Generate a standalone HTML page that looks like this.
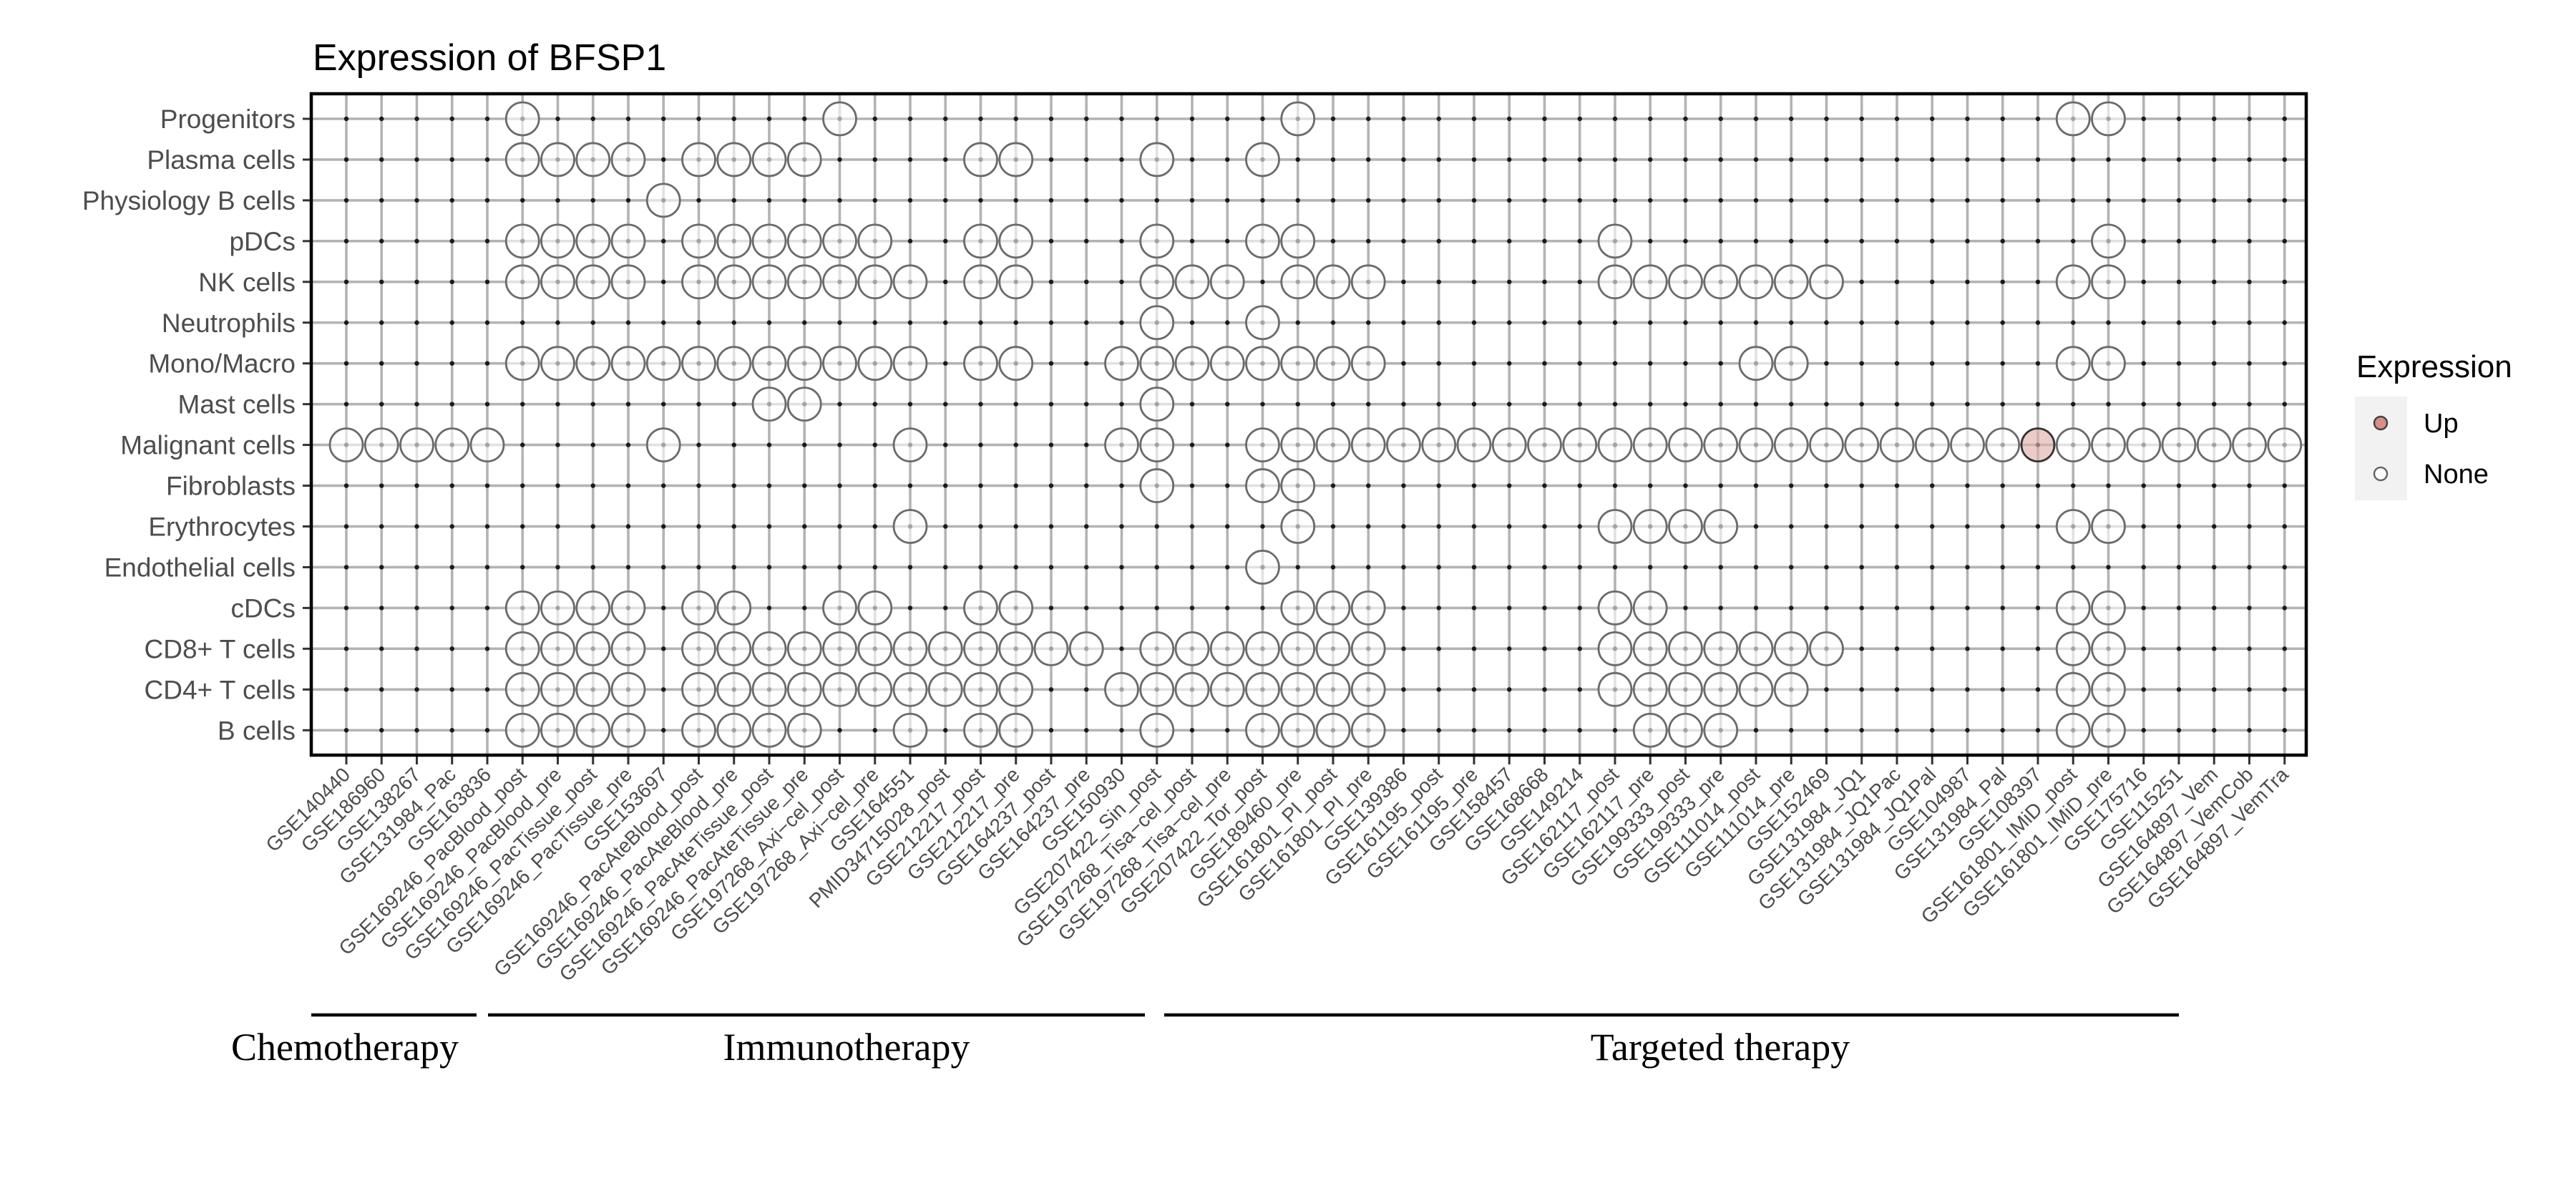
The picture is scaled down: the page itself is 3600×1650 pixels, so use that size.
<!DOCTYPE html>
<html><head><meta charset="utf-8"><style>html,body{margin:0;padding:0;background:#fff}svg{display:block}</style></head>
<body>
<svg id="s" xmlns="http://www.w3.org/2000/svg" width="3600" height="1650" viewBox="0 0 3600 1650">
<rect width="3600" height="1650" fill="#fff"/>
<text x="437" y="98" font-family="Liberation Sans, sans-serif" font-size="52" fill="#000">Expression of BFSP1</text>
<g id="grid"></g>
<g id="pts"></g>
<rect x="435" y="131" width="2788" height="924" fill="none" stroke="#000" stroke-width="4.5"/>
<g id="ylab" font-family="Liberation Sans, sans-serif" font-size="37" fill="#4d4d4d" text-anchor="end"></g>
<g id="xlab" font-family="Liberation Sans, sans-serif" font-size="28" fill="#4d4d4d" text-anchor="end"></g>
<!-- legend -->
<text x="3293" y="527" font-family="Liberation Sans, sans-serif" font-size="44" fill="#000">Expression</text>
<rect x="3291" y="554" width="73" height="145" fill="#f2f2f2"/>
<circle cx="3327" cy="591" r="9" fill="#d98f86" stroke="#444" stroke-width="2.5"/>
<circle cx="3327" cy="662" r="9" fill="#fff" stroke="#666" stroke-width="2.5"/>
<text x="3387" y="604" font-family="Liberation Sans, sans-serif" font-size="38" fill="#000">Up</text>
<text x="3387" y="675" font-family="Liberation Sans, sans-serif" font-size="38" fill="#000">None</text>
<!-- bottom groups -->
<g stroke="#000" stroke-width="4.5">
<line x1="435" y1="1418" x2="666" y2="1418"/>
<line x1="682" y1="1418" x2="1600" y2="1418"/>
<line x1="1627" y1="1418" x2="3045" y2="1418"/>
</g>
<g font-family="Liberation Serif, serif" font-size="54" fill="#000" text-anchor="middle">
<text x="482" y="1481">Chemotherapy</text>
<text x="1183" y="1481">Immunotherapy</text>
<text x="2404" y="1481">Targeted therapy</text>
</g>
</svg>
<script>
var NS="http://www.w3.org/2000/svg";
function el(p,t,a,txt){var e=document.createElementNS(NS,t);for(var k in a)e.setAttribute(k,a[k]);if(txt!=null)e.textContent=txt;p.appendChild(e);return e;}
var rows=["Progenitors","Plasma cells","Physiology B cells","pDCs","NK cells","Neutrophils","Mono/Macro","Mast cells","Malignant cells","Fibroblasts","Erythrocytes","Endothelial cells","cDCs","CD8+ T cells","CD4+ T cells","B cells"];
var cols=["GSE140440","GSE186960","GSE138267","GSE131984_Pac","GSE163836","GSE169246_PacBlood_post","GSE169246_PacBlood_pre","GSE169246_PacTissue_post","GSE169246_PacTissue_pre","GSE153697","GSE169246_PacAteBlood_post","GSE169246_PacAteBlood_pre","GSE169246_PacAteTissue_post","GSE169246_PacAteTissue_pre","GSE197268_Axi\u2212cel_post","GSE197268_Axi\u2212cel_pre","GSE164551","PMID34715028_post","GSE212217_post","GSE212217_pre","GSE164237_post","GSE164237_pre","GSE150930","GSE207422_Sin_post","GSE197268_Tisa\u2212cel_post","GSE197268_Tisa\u2212cel_pre","GSE207422_Tor_post","GSE189460_pre","GSE161801_PI_post","GSE161801_PI_pre","GSE139386","GSE161195_post","GSE161195_pre","GSE158457","GSE168668","GSE149214","GSE162117_post","GSE162117_pre","GSE199333_post","GSE199333_pre","GSE111014_post","GSE111014_pre","GSE152469","GSE131984_JQ1","GSE131984_JQ1Pac","GSE131984_JQ1Pal","GSE104987","GSE131984_Pal","GSE108397","GSE161801_IMiD_post","GSE161801_IMiD_pre","GSE175716","GSE115251","GSE164897_Vem","GSE164897_VemCob","GSE164897_VemTra"];
function R(a,b){var r=[];for(var i=a;i<=b;i++)r.push(i);return r;}
var data=[
[6,15,28,50,51],
[].concat(R(6,9),R(11,14),[19,20,24,27]),
[10],
[].concat(R(6,9),R(11,16),[19,20,24,27,28,37,51]),
[].concat(R(6,9),R(11,17),[19,20,24,25,26,28,29,30],R(37,43),[50,51]),
[24,27],
[].concat(R(6,17),[19,20],R(23,30),[41,42,50,51]),
[13,14,24],
[].concat(R(1,5),[10,17,23,24],R(27,56)),
[24,27,28],
[17,28,37,38,39,40,50,51],
[27],
[].concat(R(6,9),[11,12,15,16,19,20,28,29,30,37,38,50,51]),
[].concat(R(6,9),R(11,22),R(24,30),R(37,43),[50,51]),
[].concat(R(6,9),R(11,20),R(23,30),R(37,42),[50,51]),
[].concat(R(6,9),R(11,14),[17,19,20,24],R(27,30),[38,39,40,50,51])
];
var X=function(c){return 484+(c-1)*49.25;}, Y=function(r){return 166+r*56.95;};
var g=document.getElementById("grid"),p=document.getElementById("pts"),yl=document.getElementById("ylab"),xl=document.getElementById("xlab");
for(var c=1;c<=56;c++){var x=X(c);el(g,"line",{x1:x,y1:133,x2:x,y2:1053,stroke:"#b3b3b3","stroke-width":3.6});
el(g,"line",{x1:x,y1:1055,x2:x,y2:1068,stroke:"#333","stroke-width":3});
el(xl,"text",{transform:"translate("+(x+7)+",1084) rotate(-45)"},cols[c-1]);}
for(var r=0;r<16;r++){var y=Y(r);el(g,"line",{x1:437,y1:y,x2:3221,y2:y,stroke:"#b3b3b3","stroke-width":3.6});
el(g,"line",{x1:423,y1:y,x2:435,y2:y,stroke:"#333","stroke-width":3});
el(yl,"text",{x:413,y:y+13},rows[r]);
for(var c=1;c<=56;c++)el(g,"circle",{cx:X(c),cy:y,r:3.2,fill:"#1a1a1a"});
data[r].forEach(function(c){var up=(r==8&&c==49);
el(p,"circle",{cx:X(c),cy:y,r:23,fill:up?"rgba(224,176,170,0.65)":"rgba(255,255,255,0.6)",stroke:up?"#333":"#6b6b6b","stroke-width":2.8});});}
</script>
</body></html>
